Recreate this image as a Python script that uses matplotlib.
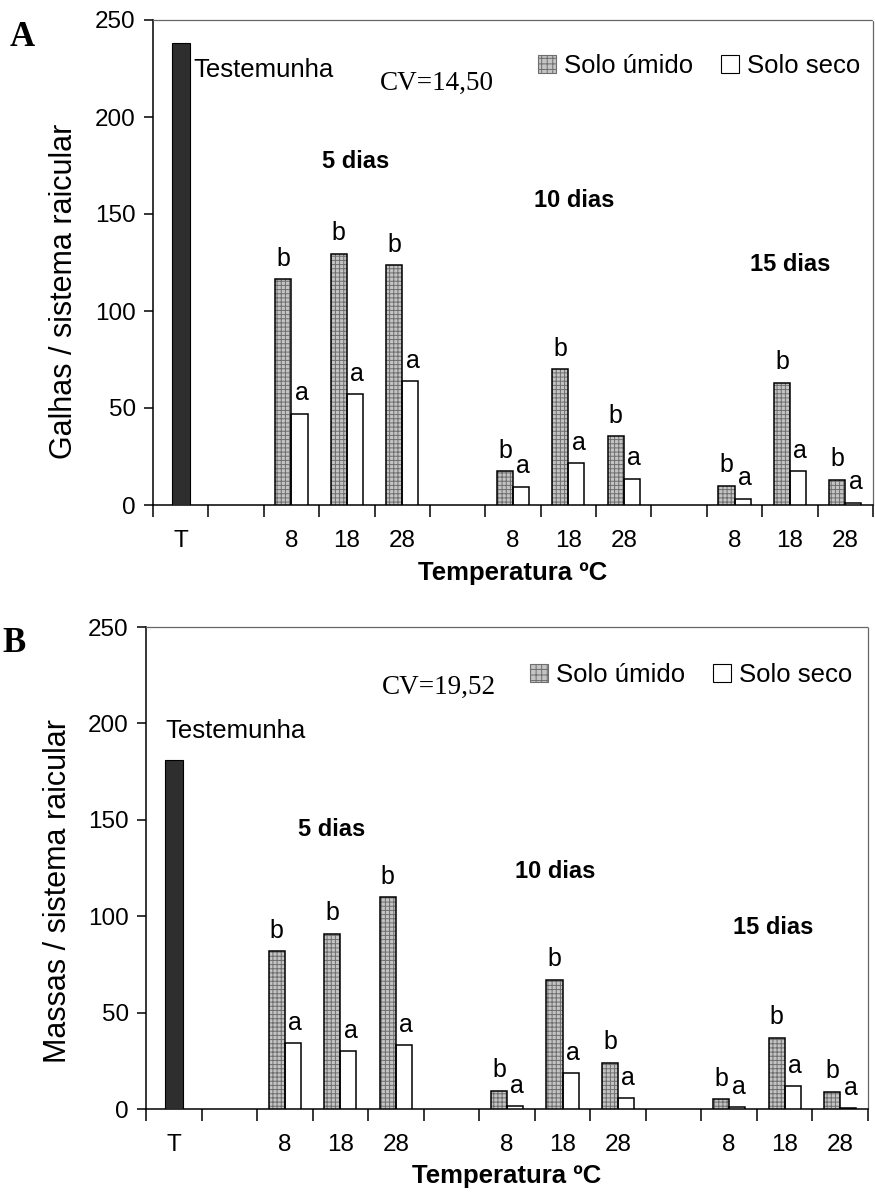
import numpy as np
import matplotlib
matplotlib.use('Agg')
import matplotlib.pyplot as plt
from matplotlib.patches import Patch

plt.rcParams['font.family'] = ['Liberation Sans', 'DejaVu Sans']
plt.rcParams['hatch.linewidth'] = 0.7

# categories on the x axis (13 slots: testemunha, gap, 3 groups of 3 temps)
slot_labels = ['T', '', '8', '18', '28', '', '8', '18', '28', '', '8', '18', '28']
dias = ['5 dias', '10 dias', '15 dias']
temps = ['8', '18', '28']

# panel A - galhas
galhas_test = 238
galhas_umido = [116.5, 129.5, 123.5, 17.5, 70, 35.5, 10, 63, 13]
galhas_seco = [47, 57, 64, 9.5, 21.5, 13.5, 3.2, 17.5, 1.2]
galhas_let_umido = ['b', 'b', 'b', 'b', 'b', 'b', 'b', 'b', 'b']
galhas_let_seco = ['a', 'a', 'a', 'a', 'a', 'a', 'a', 'a', 'a']
galhas_cv = 'CV=14,50'

# panel B - massas
massas_test = 181
massas_umido = [82, 91, 110, 9.5, 67, 24, 5, 37, 9]
massas_seco = [34, 30, 33, 1.5, 18.5, 5.5, 1, 12, 0.4]
massas_let_umido = ['b', 'b', 'b', 'b', 'b', 'b', 'b', 'b', 'b']
massas_let_seco = ['a', 'a', 'a', 'a', 'a', 'a', 'a', 'a', 'a']
massas_cv = 'CV=19,52'

W, H = 875, 1196
fig = plt.figure(figsize=(W / 100, H / 100), dpi=100)

def px_axes(left, right, top, bottom):
    return fig.add_axes([left / W, 1 - bottom / H, (right - left) / W, (bottom - top) / H])

pos = np.array([2 + 4 * g + t for g in range(3) for t in range(3)])
bw = 0.29
fs = 17.5


def draw_panel(ax, test, umido, seco, let_u, let_s, cv, txt_pos, ylab, ylab_xy, letter, letter_xy):
    ax.bar(0, test, width=0.32, color='#2e2e2e', edgecolor='black', linewidth=0.8, zorder=3)
    ax.bar(pos - bw / 2, umido, width=bw, color='#c4c4c4', edgecolor='#6e6e6e',
           hatch='++++', linewidth=0, zorder=3)
    ax.bar(pos - bw / 2, umido, width=bw, fill=False, edgecolor='black', linewidth=1.1, zorder=4)
    ax.bar(pos + bw / 2, seco, width=bw, color='white', edgecolor='black', linewidth=1.1, zorder=3)

    for x, v, l in zip(pos - bw / 2, umido, let_u):
        ax.annotate(l, (x, v), xytext=(0, 6), textcoords='offset points',
                    ha='center', va='bottom', fontsize=18)
    for x, v, l in zip(pos + bw / 2, seco, let_s):
        ax.annotate(l, (x + 0.04, v), xytext=(0, 6), textcoords='offset points',
                    ha='center', va='bottom', fontsize=18)

    ax.set_xlim(-0.5, 12.5)
    ax.set_ylim(0, 250)
    ax.set_yticks([0, 50, 100, 150, 200, 250])
    ax.tick_params(axis='y', direction='out', length=6.5, width=1.1, pad=6, labelsize=fs)
    ax.set_xticks(np.arange(-0.5, 13, 1))
    ax.set_xticklabels([])
    ax.tick_params(axis='x', which='major', direction='out', length=8.5, width=1.1)
    ax.set_xticks(np.arange(13), minor=True)
    ax.set_xticklabels(slot_labels, minor=True)
    ax.tick_params(axis='x', which='minor', length=0, pad=18, labelsize=fs)

    for s in ['top', 'right']:
        ax.spines[s].set_linestyle((0, (1, 1)))
        ax.spines[s].set_color('#666666')
        ax.spines[s].set_linewidth(0.9)
    ax.spines['left'].set_linewidth(1.1)
    ax.spines['bottom'].set_linewidth(1.1)

    ax.set_xlabel('Temperatura ºC', fontsize=18.5, fontweight='bold')
    ax.xaxis.set_label_coords(0.5, -0.115)

    ax.text(txt_pos['test'][0], txt_pos['test'][1], 'Testemunha', fontsize=18.5, va='center')
    ax.text(txt_pos['cv'][0], txt_pos['cv'][1], cv, fontsize=19.5, va='center',
            family=['Liberation Serif', 'DejaVu Serif'])
    for d, (x, y) in zip(dias, txt_pos['dias']):
        ax.text(x, y, d, fontsize=17, fontweight='bold', ha='center', va='center')

    handles = [Patch(facecolor='#c4c4c4', edgecolor='#6e6e6e', hatch='+++', linewidth=0.8),
               Patch(facecolor='white', edgecolor='black', linewidth=0.8)]
    ax.legend(handles, ['Solo úmido', 'Solo seco'], ncol=2, frameon=False, fontsize=18.5,
              loc='center right', bbox_to_anchor=txt_pos['leg'],
              handlelength=0.7, handleheight=0.7, handletextpad=0.3, columnspacing=1.1,
              borderaxespad=0)

    fig.text(ylab_xy[0] / W, 1 - ylab_xy[1] / H, ylab, rotation=90, ha='center', va='center',
             fontsize=22)
    fig.text(letter_xy[0] / W, 1 - letter_xy[1] / H, letter, ha='center', va='center',
             fontsize=25, fontweight='bold', family=['Liberation Serif', 'DejaVu Serif'])


axA = px_axes(153, 873, 20, 505)
draw_panel(axA, galhas_test, galhas_umido, galhas_seco, galhas_let_umido, galhas_let_seco,
           galhas_cv,
           {'test': (0.22, 224), 'cv': (3.6, 217.5), 'dias': [(3.15, 177), (7.1, 157), (11.0, 124)],
            'leg': (0.996, 0.905)},
           'Galhas / sistema raicular', (64, 291), 'A', (22, 37))

axB = px_axes(146, 868, 627, 1109)
draw_panel(axB, massas_test, massas_umido, massas_seco, massas_let_umido, massas_let_seco,
           massas_cv,
           {'test': (-0.16, 196), 'cv': (3.75, 218.6), 'dias': [(2.85, 145), (6.87, 123), (10.8, 94)],
            'leg': (0.992, 0.9)},
           'Massas / sistema raicular', (58, 891), 'B', (14, 643))

fig.savefig('out.png', dpi=100)
